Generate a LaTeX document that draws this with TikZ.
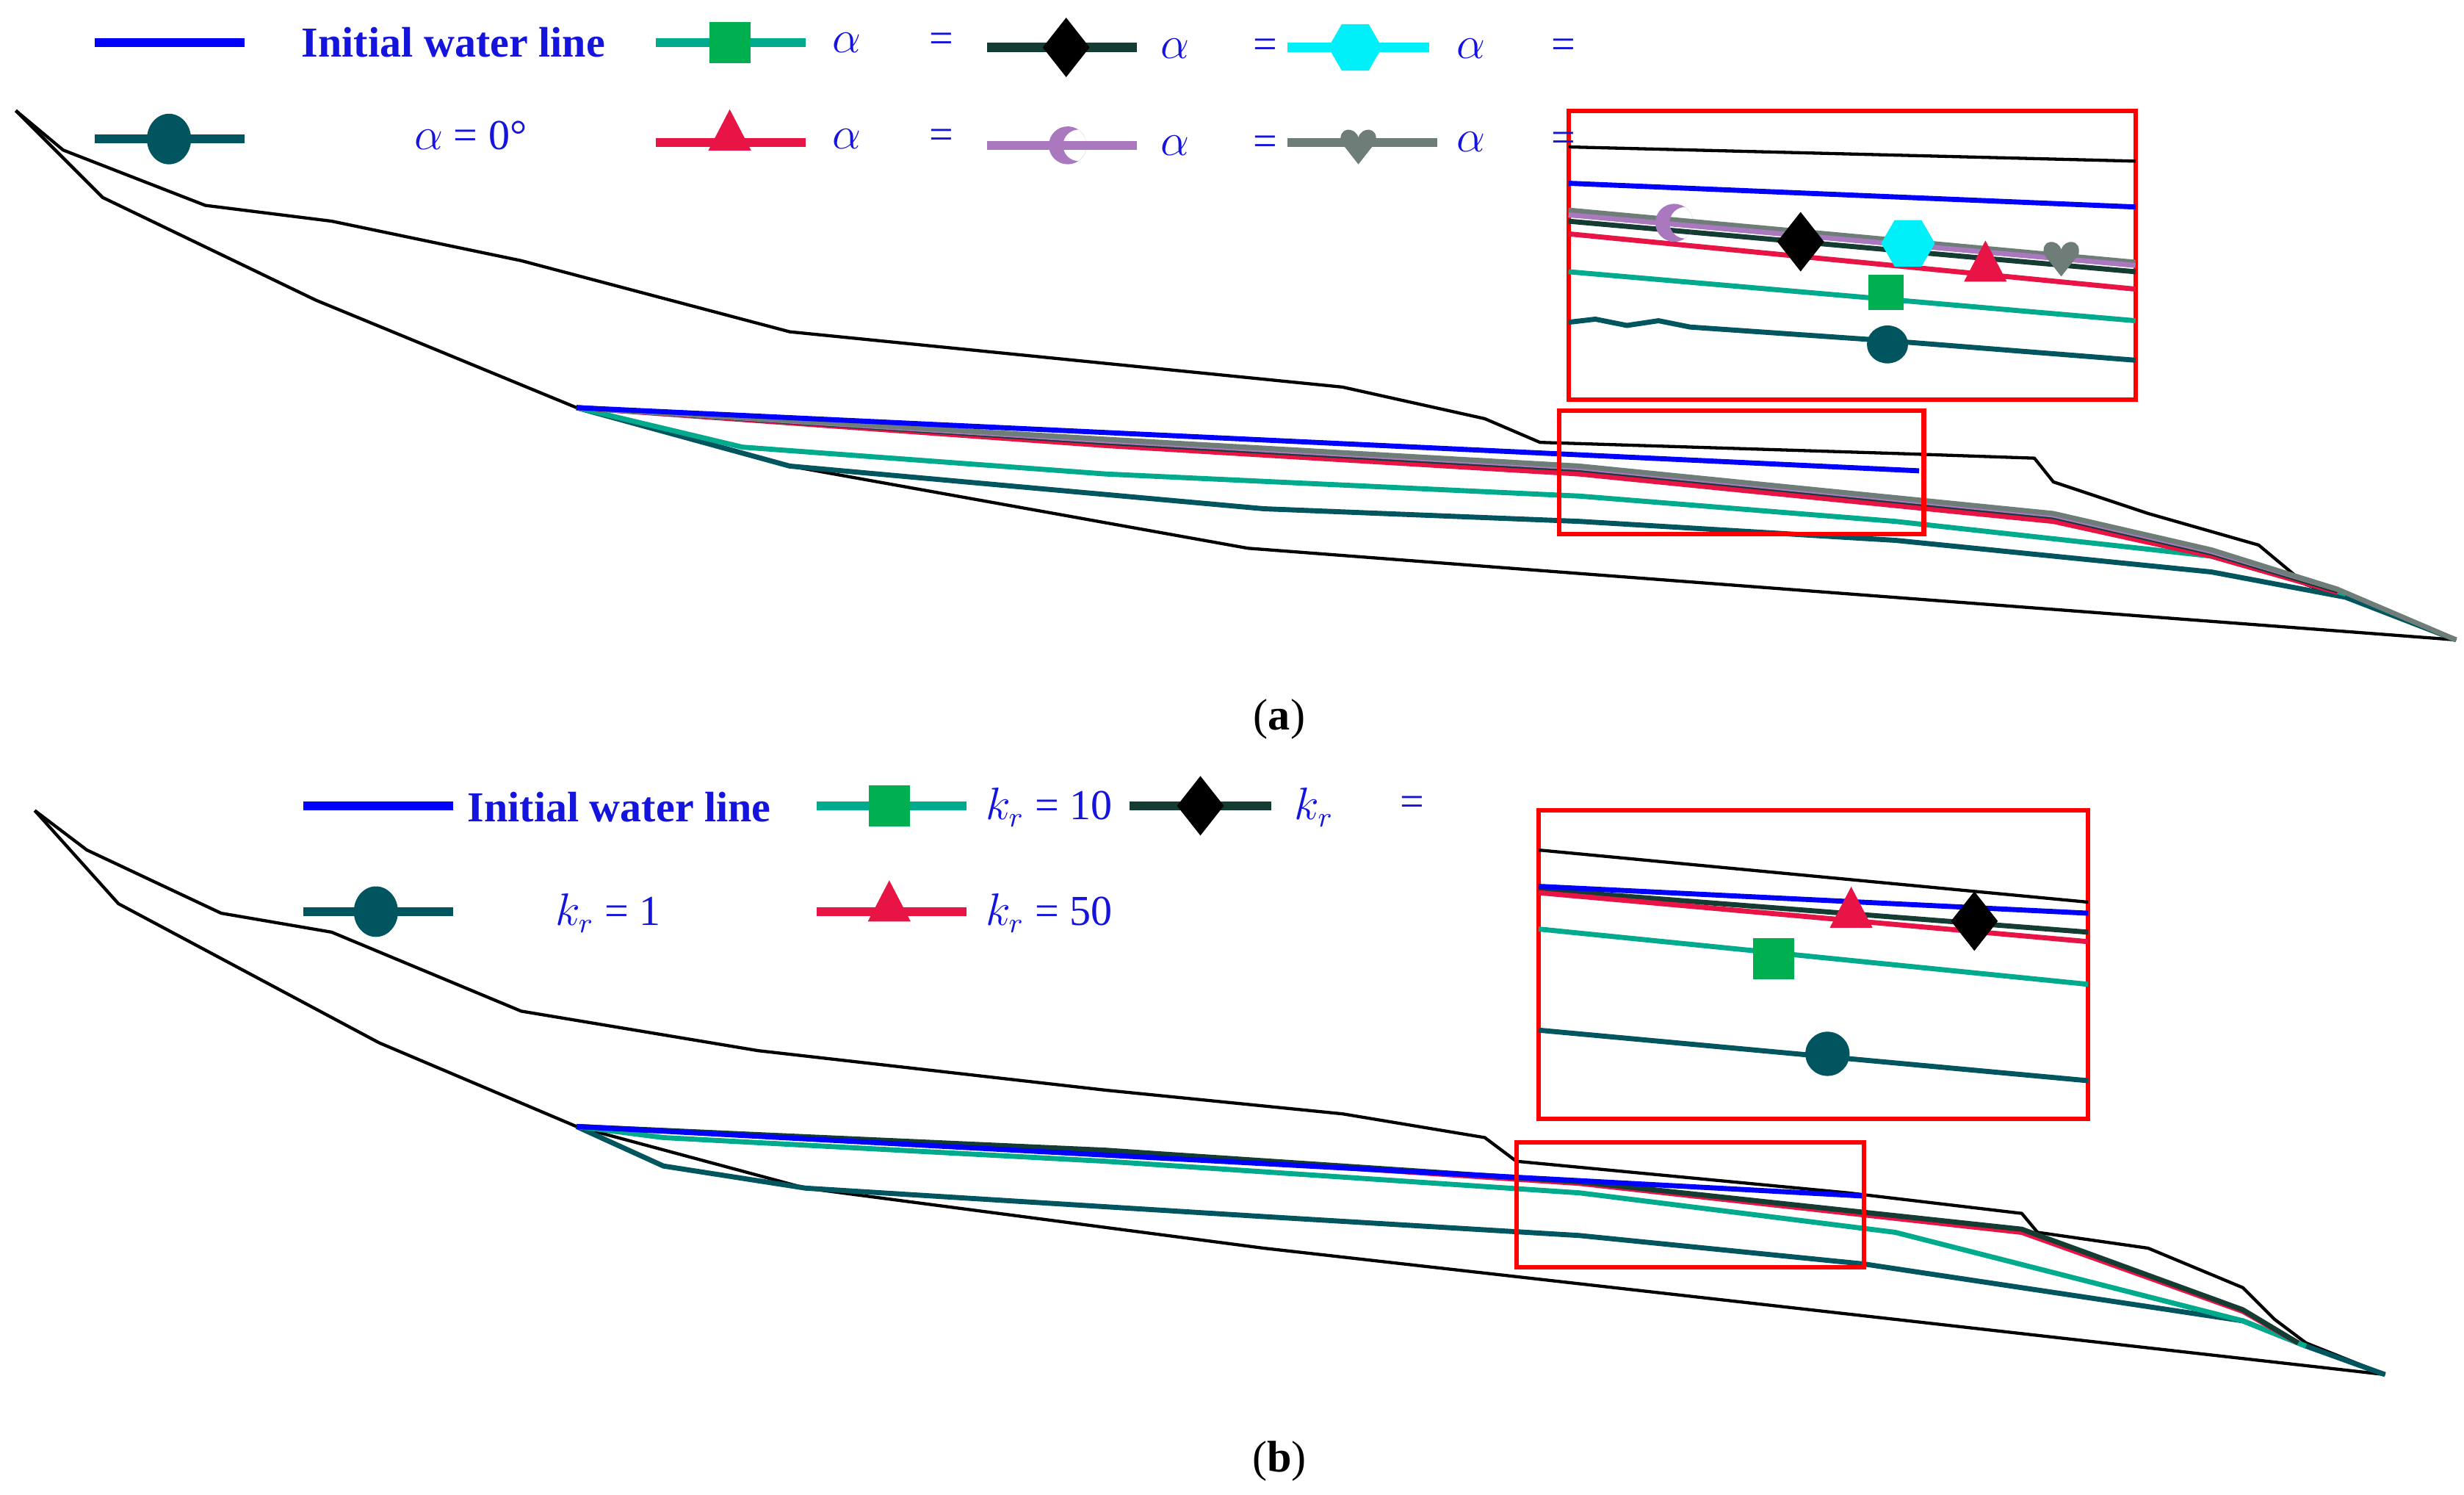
\documentclass[tikz,border=0pt]{standalone}
\usepackage{fontspec}
\setmainfont{Liberation Serif}
\usetikzlibrary{shapes.geometric}
\definecolor{cblue}{RGB}{0,0,255}
\definecolor{cgreen}{RGB}{0,176,80}
\definecolor{cteal}{RGB}{0,170,140}
\definecolor{cdark}{RGB}{20,60,50}
\definecolor{ccyan}{RGB}{0,240,250}
\definecolor{cdteal}{RGB}{0,85,95}
\definecolor{cred}{RGB}{232,20,70}
\definecolor{cpurple}{RGB}{170,120,190}
\definecolor{cgray}{RGB}{110,125,120}
\definecolor{ctext}{RGB}{20,20,220}
\tikzset{
 outl/.style={black,line width=1pt},
 wl/.style={line width=1.6pt},
 lg/.style={line width=2.8pt},
 box/.style={draw=red,line width=1.4pt},
 lab/.style={text=ctext,font=\fontsize{13.5}{15}\selectfont},
 sq/.style={fill=cgreen,minimum size=13pt,inner sep=0pt},
 dia/.style={diamond,fill=black,minimum width=15pt,minimum height=19pt,inner sep=0pt},
 hex/.style={regular polygon,regular polygon sides=6,fill=ccyan,minimum size=17pt,inner sep=0pt},
 tri/.style={isosceles triangle,shape border rotate=90,isosceles triangle apex angle=55,fill=cred,minimum height=13pt,minimum width=13pt,inner sep=0pt},
 circ/.style={ellipse,fill=cdteal,minimum width=14pt,minimum height=16pt,inner sep=0pt},
 captxt/.style={font=\fontsize{14}{16}\selectfont},
 pics/crescent/.style={code={
   \begin{scope}\clip (0,0) circle (6pt);
   \fill[cpurple,even odd rule] (0,0) circle (6pt) (3.5pt,0) circle (5pt);
   \end{scope}}},
 pics/heart/.style={code={
   \fill[cgray] (0,-6pt) -- (-5.5pt,1pt) .. controls (-6.5pt,6pt) and (-1pt,6pt) .. (0,2.5pt) .. controls (1pt,6pt) and (6.5pt,6pt) .. (5.5pt,1pt) -- cycle;}}
}
\begin{document}
\begin{tikzpicture}[x=0.5pt,y=-0.5pt]
\useasboundingbox (0,0) rectangle (1560,946);
% ===== Panel (a) =====
\draw[outl] (10,70)--(40,95)--(130,130)--(210,140)--(330,165)--(500,210)--(700,230)--(850,245)--(940,265)--(975,280)--(1200,287)--(1288,290)--(1300,305)--(1360,325)--(1430,345)--(1460,370)--(1490,380)--(1555,405);
\draw[outl] (10,70)--(65,125)--(200,190)--(365,258)--(500,295)--(790,347)--(1000,363)--(1555,405);
\draw[wl,cdteal] (365,258)--(500,295)--(800,322)--(1000,330)--(1200,342)--(1400,362)--(1485,378)--(1555,405);
\draw[wl,cteal] (365,258)--(470,283)--(700,300)--(1000,314)--(1200,330)--(1400,352)--(1485,376);
\draw[wl,cred] (365,258)--(700,282)--(1000,300)--(1300,330)--(1400,352)--(1480,375);
\draw[wl,cdark] (365,258)--(700,280)--(1000,297)--(1300,327)--(1400,350)--(1480,374);
\draw[wl,cpurple] (365,258)--(700,279)--(1000,296)--(1300,326)--(1400,349)--(1480,373);
\draw[wl,cgray] (365,258)--(700,278)--(1000,295)--(1300,325)--(1400,348)--(1480,373)--(1555,405);
\draw[wl,cblue] (365,258)--(1215,298);
\draw[box] (987,260) rectangle (1218,338);
% inset a
\draw[box] (993,70) rectangle (1352,253);
\draw[outl] (993,93)--(1352,102);
\draw[wl,cblue] (993,116)--(1352,131);
\draw[wl,cgray] (993,133)--(1352,166);
\draw[wl,cpurple] (993,136)--(1352,168);
\draw[wl,cdark] (993,140)--(1352,172);
\draw[wl,cred] (993,148)--(1352,183);
\draw[wl,cteal] (993,172)--(1352,203);
\draw[wl,cdteal] (993,204)--(1010,202)--(1030,206)--(1050,203)--(1070,207)--(1200,216)--(1352,228);
\pic at (1060,141) {crescent};
\node[dia] (ia2) at (1140,153) {};
\node[hex] (ia3) at (1208,154) {};
\node[tri] (ia4) at (1257,170) {};
\pic at (1305,163) {heart};
\node[sq,minimum size=11pt] (ia1) at (1194,185) {};
\node[circ,minimum width=13pt,minimum height=12pt] (ia0) at (1195,218) {};
% legend a
\draw[lg,cblue] (60,27)--(155,27);
\node[lab,font=\bfseries\fontsize{13.5}{15}\selectfont,anchor=west] (la0) at (184,27) {Initial water line};
\draw[lg,cteal] (415,27)--(510,27); \node[sq] (ma1) at (462,27) {};
\node[lab,anchor=west] (ta1) at (520,27) {$\alpha$}; \node[lab] (ea1) at (596,27) {=};
\draw[lg,cdark] (625,30)--(720,30); \node[dia] (ma2) at (675,30) {};
\node[lab,anchor=west] (ta2) at (728,31) {$\alpha$}; \node[lab] (ea2) at (801,31) {=};
\draw[lg,ccyan] (815,30)--(905,30); \node[hex] (ma3) at (858,30) {};
\node[lab,anchor=west] (ta3) at (915,31) {$\alpha$}; \node[lab] (ea3) at (990,31) {=};
\draw[lg,cdteal] (60,88)--(155,88); \node[circ] (ma0) at (107,88) {};
\node[lab] (ta0) at (298,86) {$\alpha$ = 0°};
\draw[lg,cred] (415,90)--(510,90); \node[tri] (ma4) at (462,87) {};
\node[lab,anchor=west] (ta4) at (520,88) {$\alpha$}; \node[lab] (ea4) at (596,88) {=};
\draw[lg,cpurple] (625,92)--(720,92);
\pic at (676,92) {crescent};
\node[lab,anchor=west] (ta5) at (728,92) {$\alpha$}; \node[lab] (ea5) at (801,92) {=};
\draw[lg,cgray] (815,90)--(910,90);
\pic at (860,92) {heart};
\node[lab,anchor=west] (ta6) at (915,90) {$\alpha$}; \node[lab] (ea6) at (990,90) {=};
\node[captxt] (capa) at (810,455) {(\textbf{a})};
% ===== Panel (b) =====
\draw[outl] (22,513)--(55,538)--(140,578)--(210,590)--(330,640)--(480,665)--(700,690)--(850,705)--(940,720)--(960,735)--(1170,755)--(1280,768)--(1290,780)--(1360,790)--(1420,815)--(1440,835)--(1460,850)--(1510,870);
\draw[outl] (22,513)--(75,572)--(240,660)--(365,713)--(510,752)--(800,790)--(1510,870);
\draw[wl,cdteal] (365,713)--(420,738)--(510,752)--(800,770)--(1000,782)--(1180,800)--(1420,836)--(1460,852)--(1510,870);
\draw[wl,cteal] (365,713)--(420,720)--(700,735)--(1000,755)--(1200,780)--(1420,836)--(1460,852);
\draw[wl,cred] (365,713)--(700,729)--(1000,749)--(1280,780)--(1420,830)--(1455,850);
\draw[wl,cdark] (365,713)--(700,728)--(1000,748)--(1280,778)--(1420,829)--(1455,850);
\draw[wl,cblue] (365,713)--(1180,757);
\draw[box] (960,723) rectangle (1180,802);
% inset b
\draw[box] (974,513) rectangle (1322,708);
\draw[outl] (974,538)--(1322,571);
\draw[wl,cdark] (974,563)--(1322,590);
\draw[wl,cred] (974,565)--(1322,596);
\draw[wl,cblue] (974,561)--(1322,578);
\draw[wl,cteal] (974,588)--(1322,623);
\draw[wl,cdteal] (974,652)--(1322,684);
\node[tri] (ib4) at (1172,579) {};
\node[dia] (ib2) at (1250,583) {};
\node[sq] (ib1) at (1123,607) {};
\node[circ,minimum width=14pt,minimum height=14pt] (ib0) at (1157,667) {};
% legend b
\draw[lg,cblue] (192,510)--(287,510);
\node[lab,font=\bfseries\fontsize{13.5}{15}\selectfont,anchor=west] (lb0) at (289,511) {Initial water line};
\draw[lg,cteal] (517,510)--(612,510); \node[sq] (mb1) at (563,510) {};
\node[lab,anchor=west] (tb1) at (617,511) {$k_r$ = 10};
\draw[lg,cdark] (715,510)--(805,510); \node[dia] (mb2) at (760,510) {};
\node[lab] (tb2) at (832,511) {$k_r$}; \node[lab] (eb2) at (894,510) {=};
\draw[lg,cdteal] (192,577)--(287,577); \node[circ] (mb0) at (238,577) {};
\node[lab] (tb0) at (385,578) {$k_r$ = 1};
\draw[lg,cred] (517,577)--(612,577); \node[tri] (mb4) at (563,575) {};
\node[lab,anchor=west] (tb4) at (617,578) {$k_r$ = 50};
\node[captxt] (capb) at (810,925) {(\textbf{b})};
\end{tikzpicture}
\end{document}
